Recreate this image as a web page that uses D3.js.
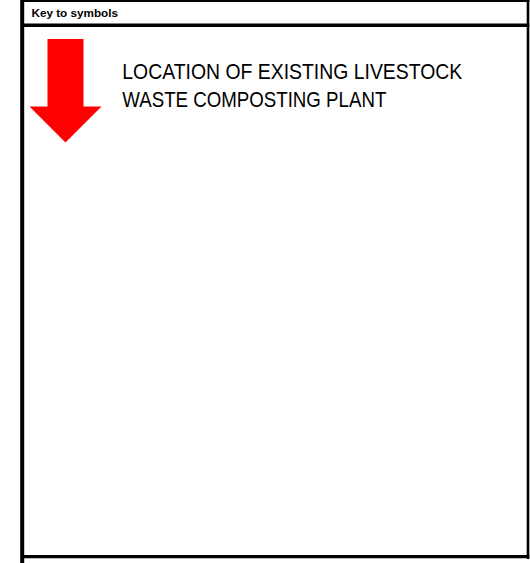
<!DOCTYPE html>
<html>
<head>
<meta charset="utf-8">
<script src="https://cdn.jsdelivr.net/npm/d3@7"></script>
<style>
  html, body { margin: 0; padding: 0; background: #ffffff; }
  svg { display: block; }
</style>
</head>
<body>
<svg id="chart" width="530" height="563"></svg>
<script>
// ---- data ----
const title = "Key to symbols";
const symbolNames = ["arrow"];
const symbolColors = ["#ff0000"];
const labelLine1 = ["LOCATION OF EXISTING LIVESTOCK"];
const labelLine2 = ["WASTE COMPOSTING PLANT"];

const svg = d3.select("#chart");
const W = 530, H = 563;

// frame
const g = svg.append("g");
// top line
g.append("line").attr("x1", 21).attr("x2", 529.5).attr("y1", 1).attr("y2", 1)
  .attr("stroke", "#000").attr("stroke-width", 2.2);
// right line
g.append("line").attr("x1", 528).attr("x2", 528).attr("y1", 0).attr("y2", 559)
  .attr("stroke", "#000").attr("stroke-width", 2.6);
// header separator
g.append("line").attr("x1", 22).attr("x2", 529.3).attr("y1", 25.2).attr("y2", 25.2)
  .attr("stroke", "#000").attr("stroke-width", 3.4);
// bottom line
g.append("line").attr("x1", 22).attr("x2", 529.3).attr("y1", 556.6).attr("y2", 556.6)
  .attr("stroke", "#000").attr("stroke-width", 3.4);
// left line
g.append("line").attr("x1", 22.2).attr("x2", 22.2).attr("y1", 0).attr("y2", H)
  .attr("stroke", "#000").attr("stroke-width", 4);

// header text
g.append("text").attr("x", 31.5).attr("y", 16.8)
  .attr("font-family", "Liberation Sans, Arial, Helvetica, sans-serif")
  .attr("font-weight", "bold").attr("font-size", 11.6)
  .attr("textLength", 86.5).attr("lengthAdjust", "spacingAndGlyphs")
  .attr("fill", "#000").text(title);

// legend rows via band scale
const y = d3.scaleBand().domain(symbolNames).range([39, 39 + 104]);

const rows = g.selectAll("g.item").data(symbolNames).join("g").attr("class", "item")
  .attr("transform", d => `translate(0,${y(d)})`);

rows.append("path")
  .attr("d", () => {
    const p = d3.path();
    // shaft x 47.5-83.5, head x 29.5-101.5, tip at 103.5 below top
    p.moveTo(47.5, 0);
    p.lineTo(83.5, 0);
    p.lineTo(83.5, 67.5);
    p.lineTo(101.5, 67.5);
    p.lineTo(65.5, 103.5);
    p.lineTo(29.5, 67.5);
    p.lineTo(47.5, 67.5);
    p.closePath();
    return p.toString();
  })
  .attr("fill", (d, i) => symbolColors[i]);

const labelFont = "'Liberation Sans Narrow', 'Arial Narrow', 'Liberation Sans', Arial, sans-serif";
rows.append("text")
  .attr("x", 122.3).attr("y", 79 - 39)
  .attr("font-family", labelFont).attr("font-size", 22)
  .attr("textLength", 340).attr("lengthAdjust", "spacingAndGlyphs")
  .attr("fill", "#000")
  .text((d, i) => labelLine1[i]);
rows.append("text")
  .attr("x", 122.3).attr("y", 106.8 - 39)
  .attr("font-family", labelFont).attr("font-size", 22)
  .attr("textLength", 264).attr("lengthAdjust", "spacingAndGlyphs")
  .attr("fill", "#000")
  .text((d, i) => labelLine2[i]);
</script>
</body>
</html>
